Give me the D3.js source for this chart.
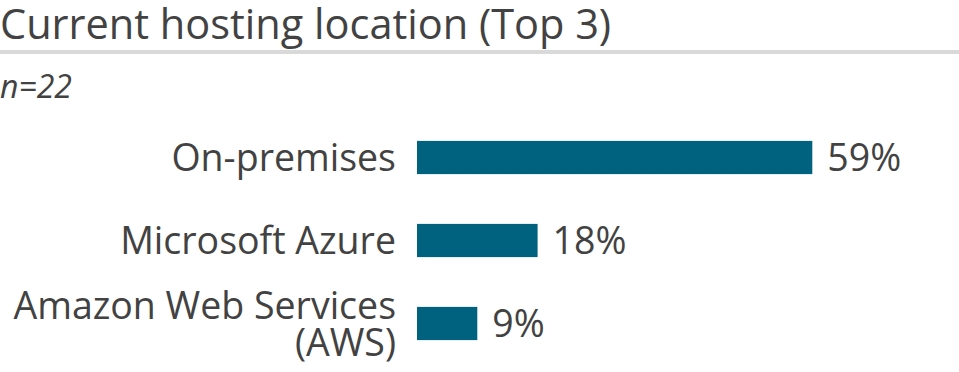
<!DOCTYPE html>
<html>
<head>
<meta charset="utf-8">
<script src="https://cdn.jsdelivr.net/npm/d3@7"></script>
<style>
  body { margin: 0; background: #fff; }
  svg { display: block; font-family: "Open Sans", sans-serif; }
</style>
</head>
<body>
<svg id="chart" width="959" height="372"></svg>
<script>
// data
var categories = ["On-premises", "Microsoft Azure", "Amazon Web Services (AWS)"];
var labelLines = [["On-premises"], ["Microsoft Azure"], ["Amazon Web Services", "(AWS)"]];
var values = [59, 18, 9];

var svg = d3.select("#chart");
var textColor = "#424242";
var barColor = "#00627f";

// title + rule
svg.append("text")
  .attr("x", 0).attr("y", 39)
  .attr("font-size", 41.5)
  .attr("fill", textColor)
  .text("Current hosting location (Top 3)");

svg.append("rect")
  .attr("x", 0).attr("y", 50)
  .attr("width", 959).attr("height", 4)
  .attr("fill", "#d9d9d9");

svg.append("text")
  .attr("x", 0).attr("y", 98)
  .attr("font-size", 32)
  .attr("font-style", "italic")
  .attr("fill", textColor)
  .text("n=22");

// scales
var x = d3.scaleLinear().domain([0, 100]).range([417, 417 + 670]);
var y = d3.scaleBand().domain(categories).range([116, 365])
  .paddingInner(0.6).paddingOuter(0.3);

var rows = svg.selectAll("g.row")
  .data(categories)
  .enter().append("g")
  .attr("class", "row");

rows.append("rect")
  .attr("x", x(0))
  .attr("y", function(d){ return y(d); })
  .attr("width", function(d, i){ return x(values[i]) - x(0); })
  .attr("height", y.bandwidth())
  .attr("fill", barColor);

rows.append("text")
  .attr("x", function(d, i){ return x(values[i]) + 15; })
  .attr("y", function(d){ return y(d) + y.bandwidth() / 2; })
  .attr("dy", "0.36em")
  .attr("font-size", 37.5)
  .attr("fill", textColor)
  .text(function(d, i){ return values[i] + "%"; });

// category labels (right aligned, wrapped)
rows.each(function(d, i){
  var lines = labelLines[i];
  var cy = y(d) + y.bandwidth() / 2;
  var lh = 37;
  var t = d3.select(this).append("text")
    .attr("text-anchor", "end")
    .attr("font-size", 37.5)
    .attr("fill", textColor);
  lines.forEach(function(line, k){
    t.append("tspan")
      .attr("x", 396)
      .attr("y", cy + (k - (lines.length - 1) / 2) * lh)
      .attr("dy", "0.36em")
      .text(line);
  });
});
</script>
</body>
</html>
